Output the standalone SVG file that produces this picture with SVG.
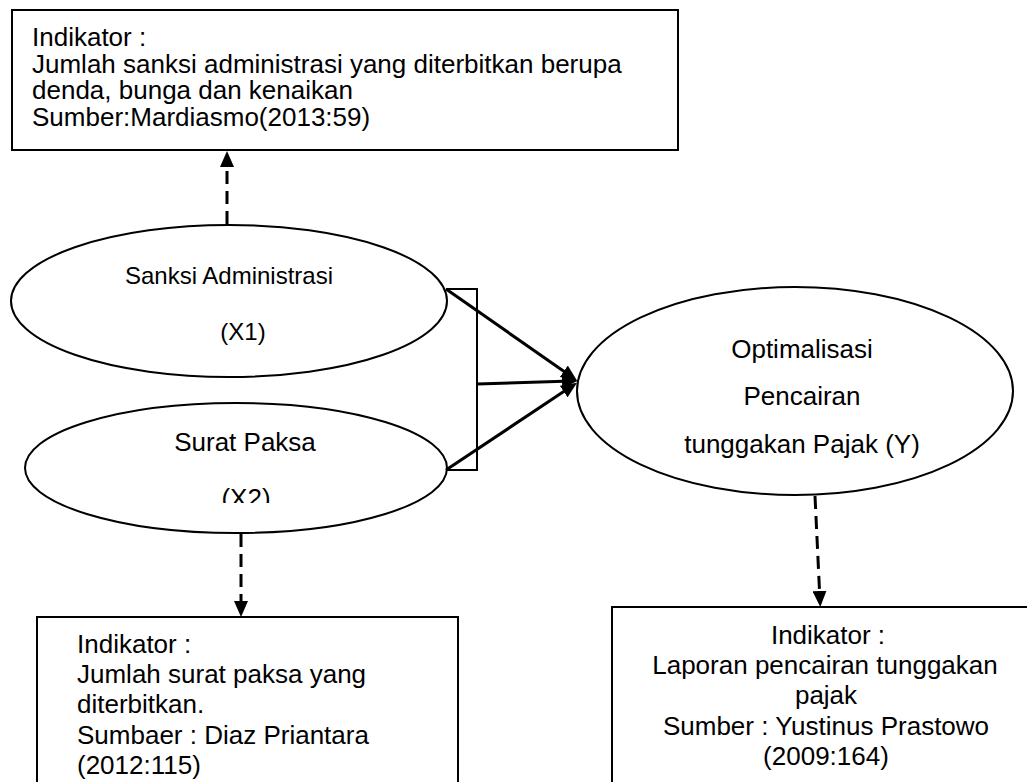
<svg xmlns="http://www.w3.org/2000/svg" width="1027" height="782" viewBox="0 0 1027 782">
<style>
.box{fill:#fff;stroke:#000;stroke-width:2}
.ell{fill:#fff;stroke:#000;stroke-width:2}
.t{font-family:"Liberation Sans",Arial,sans-serif;font-size:26px;fill:#000}
.s{font-size:24px}
.c{text-anchor:middle}
.solid{stroke:#000;stroke-width:3;fill:none}
.dash{stroke:#000;stroke-width:3;fill:none;stroke-dasharray:13 7}
.br{stroke:#000;stroke-width:2;fill:none}
</style>
<defs>
<marker id="ah" viewBox="0 0 16 14" refX="10" refY="7" markerWidth="16" markerHeight="14" markerUnits="userSpaceOnUse" orient="auto">
<path d="M0,0 L16,7 L0,14 z" fill="#000" stroke="none"/>
</marker>
<clipPath id="clipX2"><rect x="150" y="470" width="200" height="33"/></clipPath>
</defs>
<rect width="1027" height="782" fill="#fff"/>

<g id="ind-x1">
<rect class="box" x="12" y="10" width="666" height="140"/>
<text class="t" x="32" y="46">Indikator :</text>
<text class="t" x="32" y="72.5">Jumlah sanksi administrasi yang diterbitkan berupa</text>
<text class="t" x="32" y="99">denda, bunga dan kenaikan</text>
<text class="t" x="32" y="125.5">Sumber:Mardiasmo(2013:59)</text>
</g>

<g id="x1">
<ellipse class="ell" cx="229" cy="301" rx="218" ry="76"/>
<text class="t s c" x="229" y="284">Sanksi Administrasi</text>
<text class="t s c" x="243" y="340">(X1)</text>
</g>

<g id="x2">
<ellipse class="ell" cx="236" cy="468" rx="211" ry="65"/>
<text class="t c" x="245" y="451">Surat Paksa</text>
<text class="t c" x="246" y="507" clip-path="url(#clipX2)">(X2)</text>
</g>

<g id="y">
<ellipse class="ell" cx="795" cy="391" rx="218" ry="104"/>
<text class="t c" x="802" y="358">Optimalisasi</text>
<text class="t c" x="802" y="405">Pencairan</text>
<text class="t c" x="802" y="453">tunggakan Pajak (Y)</text>
</g>

<g id="ind-x2">
<rect class="box" x="37" y="617" width="421" height="180"/>
<text class="t" x="77" y="653">Indikator :</text>
<text class="t" x="77" y="683">Jumlah surat paksa yang</text>
<text class="t" x="77" y="713">diterbitkan.</text>
<text class="t" x="77" y="744">Sumbaer : Diaz Priantara</text>
<text class="t" x="77" y="774">(2012:115)</text>
</g>

<g id="ind-y">
<rect class="box" x="612" y="607" width="430" height="190"/>
<text class="t c" x="828" y="644">Indikator :</text>
<text class="t c" x="825" y="674">Laporan pencairan tunggakan</text>
<text class="t c" x="826" y="704">pajak</text>
<text class="t c" x="826" y="735">Sumber : Yustinus Prastowo</text>
<text class="t c" x="826" y="765">(2009:164)</text>
</g>

<g id="connectors">
<path class="br" d="M446,289 H477 V470 H446"/>
<line class="solid" x1="446" y1="289" x2="572" y2="377" marker-end="url(#ah)"/>
<line class="solid" x1="477" y1="384" x2="572" y2="381" marker-end="url(#ah)"/>
<line class="solid" x1="446" y1="470" x2="572" y2="386" marker-end="url(#ah)"/>
<line class="dash" x1="227" y1="224" x2="227" y2="157" marker-end="url(#ah)"/>
<line class="dash" x1="241" y1="534" x2="241" y2="611" marker-end="url(#ah)"/>
<line class="dash" x1="815" y1="496" x2="820" y2="601" marker-end="url(#ah)"/>
</g>
</svg>
